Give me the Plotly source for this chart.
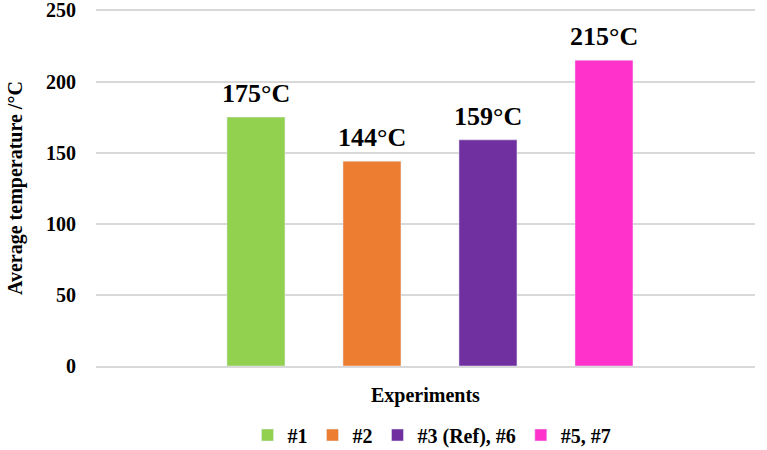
import plotly.graph_objects as go

experiments = ["#1", "#2", "#3 (Ref), #6", "#5, #7"]
avg_temp = [175, 144, 159, 215]
labels = ["175°C", "144°C", "159°C", "215°C"]
colors = ["#92D050", "#ED7D31", "#7030A0", "#FF33CC"]
y_ticks = [0, 50, 100, 150, 200, 250]

FONT = "Liberation Serif, Times New Roman, serif"
W, H = 767, 450
PL, PR, PT, PB = 96, 755, 9, 366  # plot area in pixels
PW, PH = PR - PL, PB - PT

fig = go.Figure()
for i, (name, val, col) in enumerate(zip(experiments, avg_temp, colors)):
    fig.add_trace(go.Bar(
        x=[name], y=[val], name=name, marker_color=col, width=0.5,
        hoverinfo="y",
    ))
    fig.add_annotation(
        x=name, y=val, text=labels[i], showarrow=False,
        yanchor="bottom", yshift=7,
        font=dict(family=FONT, size=26, color="black", weight="bold"),
    )

# axis titles
fig.add_annotation(
    text="Experiments", xref="paper", yref="paper", x=0.5, y=-(395 - PB) / PH,
    yanchor="middle", showarrow=False,
    font=dict(family=FONT, size=20, color="black", weight="bold"),
)
fig.add_annotation(
    text="Average temperature /°C", xref="paper", yref="paper", x=(15 - PL) / PW,
    y=(PB - 188) / PH, xanchor="center", yanchor="middle", textangle=-90, showarrow=False,
    font=dict(family=FONT, size=20, color="black", weight="bold"),
)

fig.update_layout(
    width=W, height=H,
    margin=dict(l=PL, r=W - PR, t=PT, b=H - PB),
    paper_bgcolor="white", plot_bgcolor="white",
    barmode="overlay",
    font=dict(family=FONT, size=20, color="black", weight="bold"),
    showlegend=True,
    legend=dict(orientation="h", x=(432 - PL) / PW, xanchor="center",
                yref="container", y=(H - 435) / H, yanchor="middle",
                font=dict(family=FONT, size=20, color="black", weight="bold"),
                itemwidth=30, traceorder="normal"),
    xaxis=dict(
        type="category", range=[-1.379, 4.302], showticklabels=False,
        showgrid=False, showline=True, linecolor="#D9D9D9", linewidth=1.5,
        ticks="", zeroline=False, automargin=False,
    ),
    yaxis=dict(
        range=[0, 251], tickvals=y_ticks, showgrid=True, gridcolor="#D9D9D9",
        gridwidth=1.5, zeroline=False, ticks="", automargin=False,
        tickfont=dict(family=FONT, size=20, color="black", weight="bold"),
        ticklabelstandoff=19, ticklabeloverflow="allow",
    ),
)

fig.write_html(
    "out.html",
    config={"displayModeBar": False},
    post_script="document.body.style.margin='0';document.body.style.overflow='hidden';",
)
